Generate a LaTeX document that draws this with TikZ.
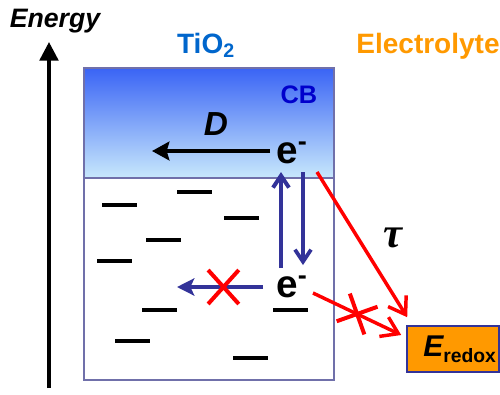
\documentclass[tikz,border=0pt]{standalone}
\usepackage{fontspec}
\setmainfont{Liberation Sans}
\newfontfamily\taufont{Liberation Serif}
\definecolor{cbtop}{RGB}{58,100,245}
\definecolor{cbbot}{RGB}{200,232,252}
\definecolor{framecol}{RGB}{112,112,170}
\definecolor{trapblue}{RGB}{51,51,153}
\definecolor{tioblue}{RGB}{0,102,204}
\definecolor{cbblue}{RGB}{0,0,204}
\definecolor{elecorange}{RGB}{255,153,0}
\usetikzlibrary{arrows.meta, calc, shapes.misc}

\begin{document}
\begin{tikzpicture}[x=0.75pt, y=-0.75pt,
    tiobox/.style={draw=framecol, line width=1.5pt},
    trap/.style={line width=2.8pt},
    lbl/.style={anchor=base, inner sep=0pt},
    head/.style={lbl, font=\fontsize{21}{21}\selectfont\bfseries},
    electron/.style={lbl, font=\fontsize{29}{29}\selectfont\bfseries},
    blue arrow/.style={draw=trapblue, line width=2.8pt, -{Straight Barb[length=9pt,width=12pt]}},
    red arrow/.style={draw=red, line width=2.6pt, -{Straight Barb[length=12pt,width=16pt]}},
    blocked/.style={cross out, draw=red, line width=3pt, inner sep=0pt}]
  \useasboundingbox (0,0) rectangle (500,394);

  \shade[top color=cbtop, bottom color=cbbot] (84,68) rectangle (334,178);
  \draw[tiobox] (84,68) rectangle (334,380) (84,178) -- (334,178);
  \foreach \x/\y in {102/205,177/192,224/218,146/240,97/261,142/310,273/310,115/341,233/358}
    \draw[trap] (\x,\y) -- ++(35,0);

  \node[lbl, font=\fontsize{20}{20}\selectfont\bfseries\itshape] (energy) at (55,27) {Energy};
  \coordinate (ebase) at (49,388);
  \coordinate (etip) at (49,42);
  \draw[line width=2.6pt, -{Triangle[length=14pt,width=14pt]}] (ebase) -- (etip);

  \node[head, text=tioblue] (tio) at (206,53) {TiO\textsubscript{2}};
  \node[head, text=elecorange] (elec) at (428,53) {Electrolyte};
  \node[lbl, text=cbblue, font=\fontsize{19}{19}\selectfont\bfseries] (cb) at (299,103) {CB};
  \node[lbl, font=\fontsize{25}{25}\selectfont\bfseries\itshape] (dlabel) at (216,135) {D};

  \node[electron] (etop) at (292,163) {e\textsuperscript{-}};
  \node[electron] (ebot) at (292,297) {e\textsuperscript{-}};
  \node[draw=trapblue, fill=elecorange, line width=1.2pt, minimum width=69pt,
        minimum height=34.5pt, inner sep=0pt] (redox) at (453,349)
    {\hspace*{10pt}\bfseries{\fontsize{22.5}{22.5}\selectfont\itshape E}\raisebox{-4.5pt}{\fontsize{14.5}{14.5}\selectfont redox}};
  \node[lbl, font=\taufont\fontsize{32}{32}\selectfont\bfseries\itshape] (tau) at (393,247) {τ};

  \coordinate (dend) at (152,151);
  \coordinate (trapend) at (177,287);
  \draw[line width=3pt, -{Stealth[length=13pt,width=14pt,inset=2pt]}]
    ($(etop.base)+(-22,-12)$) -- (dend);
  \draw[blue arrow, line width=3pt] ($(ebot.base)+(-11,-29)$) -- ($(etop.base)+(-11,9)$);
  \draw[blue arrow] ($(etop.base)+(11,9)$) -- ($(ebot.base)+(11,-32)$);
  \draw[draw=trapblue, line width=2.8pt, -{Stealth[length=13pt,width=13pt,inset=3pt]}]
    ($(ebot.base)+(-29,-10)$) -- (trapend)
    node[blocked, pos=0.46, minimum width=20pt, minimum height=22.5pt] (x1) {};
  \draw[red arrow] ($(etop.base)+(25,9)$) -- ($(redox.north west)+(1,-8)$);
  \draw[red arrow] ($(ebot.base)+(21,-4)$) -- ($(redox.west)+(-5,-14)$)
    node[blocked, pos=0.5, sloped, minimum width=20pt, minimum height=20pt] (x2) {};
\end{tikzpicture}
\end{document}
